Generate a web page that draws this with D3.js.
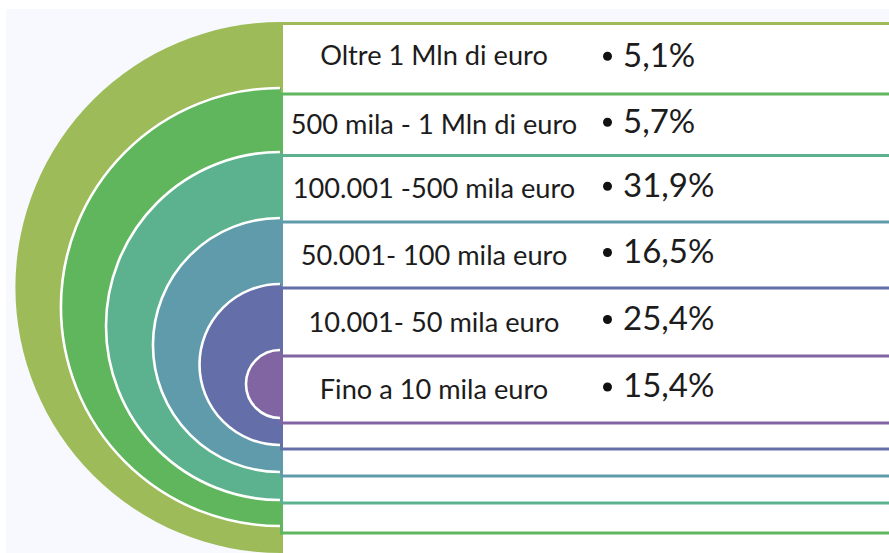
<!DOCTYPE html>
<html>
<head>
<meta charset="utf-8">
<script src="https://cdn.jsdelivr.net/npm/d3@7"></script>
<style>
  html, body { margin: 0; padding: 0; background: #ffffff; }
  svg { display: block; }
  text { font-family: "Lato", "Noto Sans", sans-serif; fill: #1c1c1c; }
</style>
</head>
<body>
<svg id="chart" width="889" height="553"></svg>
<script>
// Distribution by amount bracket, outermost ring first
const categories = [
  "Oltre 1 Mln di euro",
  "500 mila - 1 Mln di euro",
  "100.001 -500 mila euro",
  "50.001- 100 mila euro",
  "10.001- 50 mila euro",
  "Fino a 10 mila euro"
];
const shares = [5.1, 5.7, 31.9, 16.5, 25.4, 15.4];
const colors = ["#9dbb58", "#5fb65c", "#5cb28e", "#5f9bab", "#646ea9", "#8165a2"];

// Geometry of the nested half-discs and their label bands
const W = 889, H = 553;
const cx = 281;
const ringTop    = [22, 88, 152, 218, 284, 350];
const ringBottom = [553, 526, 500, 472, 445, 418];
const bandTop    = [23.5, 94, 155.5, 222, 288, 356];
const bandBottom = [562, 533, 503, 476, 449, 423];

const it = d3.formatLocale({ decimal: ",", thousands: ".", grouping: [3], currency: ["", "€"] });
const fmtPct = v => it.format(".1f")(v) + "%";

const svg = d3.select("#chart");

// pale panel behind the diagram
svg.append("rect")
  .attr("x", 6).attr("y", 9)
  .attr("width", W - 6).attr("height", H - 9)
  .attr("fill", "#f8f9fe");

const idx = d3.range(categories.length);

idx.forEach(i => {
  const r = (ringBottom[i] - ringTop[i]) / 2;
  const cy = ringTop[i] + r;
  const top = cy - r;

  // left half-disc
  const disc = d3.path();
  disc.moveTo(cx, top);
  disc.arc(cx, cy, r, -Math.PI / 2, Math.PI / 2, true);
  disc.closePath();
  svg.append("path").attr("d", disc.toString()).attr("fill", colors[i]);

  // white rim along the curved edge only
  if (i > 0) {
    const rim = d3.path();
    rim.moveTo(cx - 1, top);
    rim.arc(cx - 1, cy, r, -Math.PI / 2, Math.PI / 2, true);
    svg.append("path").attr("d", rim.toString())
      .attr("fill", "none").attr("stroke", "#ffffff").attr("stroke-width", 2.6);
  }

  // label band
  svg.append("rect")
    .attr("x", cx + 0.5).attr("y", bandTop[i])
    .attr("width", W + 20 - cx).attr("height", bandBottom[i] - bandTop[i])
    .attr("fill", "#ffffff")
    .attr("stroke", colors[i]).attr("stroke-width", 3);
});

// text rows
const rowMid = idx.map(i => {
  const next = i < idx.length - 1 ? bandTop[i + 1] : bandBottom[i];
  return (bandTop[i] + next) / 2;
});

const rows = svg.append("g").selectAll("g").data(idx).join("g");

rows.append("text")
  .attr("x", 434)
  .attr("y", i => rowMid[i] - (i === 0 ? 3 : 0))
  .attr("dy", "0.35em")
  .attr("text-anchor", "middle")
  .attr("font-size", 27.2)
  .text(i => categories[i]);

rows.append("circle")
  .attr("cx", 607.5)
  .attr("cy", i => rowMid[i] - 2.5)
  .attr("r", 4.5)
  .attr("fill", "#111");

rows.append("text")
  .attr("x", 623)
  .attr("y", i => rowMid[i] - 4)
  .attr("dy", "0.36em")
  .attr("font-size", 33)
  .text(i => fmtPct(shares[i]));
</script>
</body>
</html>
